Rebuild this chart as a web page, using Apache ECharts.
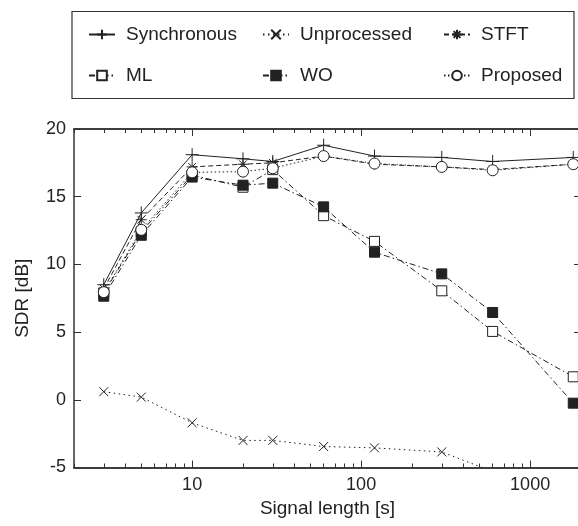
<!DOCTYPE html>
<html><head><meta charset="utf-8">
<script src="https://cdn.jsdelivr.net/npm/echarts@6/dist/echarts.min.js"></script>
<style>html,body{margin:0;padding:0;background:#fff}#c{width:578px;height:526px}</style>
</head><body><div id="c"></div>
<script>
const lengths = [3, 5, 10, 20, 30, 60, 120, 300, 600, 1800];
const synchronous = [8.5, 13.8, 18.1, 17.8, 17.6, 18.8, 18.0, 17.9, 17.6, 17.9];
const unprocessed = [0.6, 0.2, -1.7, -3.0, -3.0, -3.45, -3.55, -3.85, -5.3, -7.0];
const stft = [8.2, 13.3, 17.2, 17.4, 17.5, 18.0, 17.4, 17.2, 17.0, 17.4];
const ml = [7.9, 12.4, 16.6, 15.7, 17.0, 13.6, 11.7, 8.05, 5.05, 1.7];
const wo = [7.65, 12.15, 16.45, 15.85, 16.0, 14.25, 10.9, 9.3, 6.45, -0.25];
const proposed = [7.95, 12.55, 16.8, 16.85, 17.1, 18.0, 17.45, 17.2, 16.95, 17.4];
const xMajor = [10, 100, 1000];
const xMinor = [2,3,4,5,6,7,8,9,20,30,40,50,60,70,80,90,200,300,400,500,600,700,800,900,2000];

const INK = '#222';
const AX = '#333';
const FONT = '"Liberation Sans", Arial, sans-serif';
const pair = ys => lengths.map((x, i) => [x, ys[i]]);

const P_PLUS = 'path://M0,5L10,5M5,0L5,10';
const P_X = 'path://M0,0L10,10M0,10L10,0';
const P_AST = 'path://M5,0L5,10M0,5L10,5M1.5,1.5L8.5,8.5M1.5,8.5L8.5,1.5';

function mk(name, data, symbol, size, dash, fill) {
  return {
    name, type: 'line', data: pair(data), symbol, symbolSize: size,
    clip: true,
    lineStyle: { color: INK, width: 1, type: dash },
    itemStyle: { color: fill, borderColor: INK, borderWidth: 1 },
    emphasis: { disabled: true }, animation: false
  };
}

const series = [
  mk('Synchronous', synchronous, P_PLUS, 13, 'solid', 'rgba(0,0,0,0)'),
  mk('Unprocessed', unprocessed, P_X, 9, [1.5, 3.5], 'rgba(0,0,0,0)'),
  mk('STFT', stft, P_AST, 11, [5, 3], 'rgba(0,0,0,0)'),
  mk('ML', ml, 'rect', 10, [6, 3, 1.5, 3], '#fff'),
  mk('WO', wo, 'rect', 10, [6, 3, 1.5, 3], INK),
  mk('Proposed', proposed, 'circle', 11, [1.5, 2.5], '#fff')
];

const legendPos = [
  ['Synchronous', 88, 25], ['Unprocessed', 262, 25], ['STFT', 443, 25],
  ['ML', 88, 66], ['WO', 262, 66], ['Proposed', 443, 66]
];
const legends = legendPos.map(([n, l, t]) => ({
  data: [n], left: l, top: t, padding: 0, itemWidth: 26, itemHeight: 12,
  selectedMode: false,
  textStyle: { fontSize: 19, color: INK, fontFamily: FONT, padding: [0, 0, 0, 6] }
}));

const baseX = {
  type: 'log', logBase: 10, min: 2, max: 2000, gridIndex: 0,
  axisLine: { show: true, onZero: false, lineStyle: { color: AX, width: 1.5 } },
  splitLine: { show: false }
};
const fmt = v => String(Math.round(v));

const option = {
  animation: false,
  textStyle: { fontFamily: FONT },
  legend: legends,
  graphic: [{ type: 'rect', shape: { x: 72, y: 11.5, width: 502, height: 87 },
    style: { fill: 'none', stroke: AX, lineWidth: 1.2 }, silent: true }],
  grid: { left: 74, top: 129, width: 507, height: 338.5, outerBoundsMode: 'none' },
  xAxis: [
    Object.assign({}, baseX, {
      position: 'bottom',
      name: 'Signal length [s]', nameLocation: 'middle', nameGap: 27,
      nameTextStyle: { fontSize: 19, color: INK, fontFamily: FONT },
      axisTick: { show: true, inside: true, length: 7, lineStyle: { color: AX }, customValues: xMajor },
      axisLabel: { show: true, fontSize: 18, color: INK, fontFamily: FONT, margin: 9, customValues: xMajor, formatter: fmt }
    }),
    Object.assign({}, baseX, {
      position: 'bottom',
      axisTick: { show: true, inside: true, length: 4, lineStyle: { color: AX }, customValues: xMinor },
      axisLabel: { show: false }
    }),
    Object.assign({}, baseX, {
      position: 'top',
      axisTick: { show: true, inside: true, length: 7, lineStyle: { color: AX }, customValues: xMajor },
      axisLabel: { show: false }
    }),
    Object.assign({}, baseX, {
      position: 'top',
      axisTick: { show: true, inside: true, length: 4, lineStyle: { color: AX }, customValues: xMinor },
      axisLabel: { show: false }
    })
  ],
  yAxis: [
    {
      type: 'value', min: -5, max: 20, interval: 5, position: 'left',
      name: 'SDR [dB]', nameLocation: 'middle', nameGap: 42,
      nameTextStyle: { fontSize: 19, color: INK, fontFamily: FONT },
      axisLine: { show: true, onZero: false, lineStyle: { color: AX, width: 1.5 } },
      axisTick: { show: true, inside: true, length: 7, lineStyle: { color: AX } },
      axisLabel: { fontSize: 18, color: INK, fontFamily: FONT, margin: 8 },
      splitLine: { show: false }
    },
    {
      type: 'value', min: -5, max: 20, interval: 5, position: 'right',
      axisLine: { show: true, onZero: false, lineStyle: { color: AX, width: 1.5 } },
      axisTick: { show: true, inside: true, length: 7, lineStyle: { color: AX } },
      axisLabel: { show: false }, splitLine: { show: false }
    }
  ],
  series: series.map(s => Object.assign(s, { xAxisIndex: 0, yAxisIndex: 0 }))
};

const chart = echarts.init(document.getElementById('c'), null, { renderer: 'canvas' });
chart.setOption(option);
</script>
</body></html>
